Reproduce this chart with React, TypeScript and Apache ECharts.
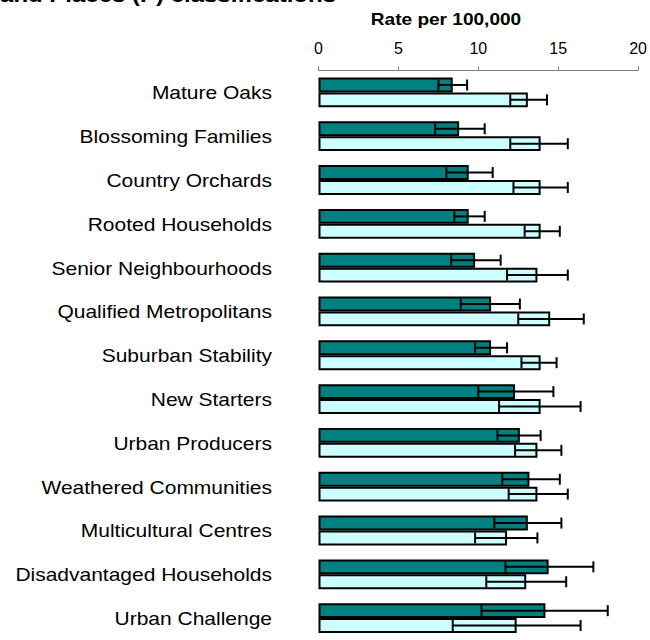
import React, { useEffect, useRef } from "react";
import * as echarts from "echarts";

// Classification groups, top to bottom
const categories = [
  "Mature Oaks",
  "Blossoming Families",
  "Country Orchards",
  "Rooted Households",
  "Senior Neighbourhoods",
  "Qualified Metropolitans",
  "Suburban Stability",
  "New Starters",
  "Urban Producers",
  "Weathered Communities",
  "Multicultural Centres",
  "Disadvantaged Households",
  "Urban Challenge",
];

// First (dark teal) measure: rate and confidence interval
const darkRates = [8.4, 8.8, 9.4, 9.4, 9.8, 10.8, 10.8, 12.3, 12.6, 13.2, 13.1, 14.4, 14.2];
const darkLow = [7.5, 7.3, 8.0, 8.5, 8.3, 8.9, 9.8, 10.0, 11.2, 11.5, 11.0, 11.7, 10.2];
const darkHigh = [9.3, 10.4, 10.9, 10.4, 11.4, 12.6, 11.8, 14.7, 13.9, 15.1, 15.2, 17.2, 18.1];

// Second (pale cyan) measure: rate and confidence interval
const lightRates = [13.1, 13.9, 13.9, 13.9, 13.7, 14.5, 13.9, 13.9, 13.7, 13.7, 11.8, 13.0, 12.4];
const lightLow = [12.0, 12.0, 12.2, 12.9, 11.8, 12.5, 12.7, 11.3, 12.3, 11.9, 9.8, 10.5, 8.4];
const lightHigh = [14.3, 15.6, 15.6, 15.1, 15.6, 16.6, 14.9, 16.4, 15.2, 15.6, 13.7, 15.5, 16.4];

// Axis ticks
const xTicks = [0, 5, 10, 15, 20];

const FONT = "'Liberation Sans', Arial, sans-serif";
const CATEGORY_GAP = 0.32;

function errorBars(low: number[], high: number[], side: number) {
  return {
    type: "custom",
    z: 5,
    silent: true,
    encode: { x: [1, 2], y: 0 },
    data: categories.map((_, i) => [i, low[i], high[i]]),
    renderItem: (_params: any, api: any) => {
      const lo = api.coord([api.value(1), api.value(0)]);
      const hi = api.coord([api.value(2), api.value(0)]);
      const band = api.size([0, 1])[1];
      const barW = (band * (1 - CATEGORY_GAP)) / 2;
      const y = lo[1] + (side * barW) / 2;
      const cap = 5.5;
      const style = { stroke: "#000", lineWidth: 2 };
      return {
        type: "group",
        children: [
          { type: "line", shape: { x1: lo[0], y1: y, x2: hi[0], y2: y }, style },
          { type: "line", shape: { x1: lo[0], y1: y - cap, x2: lo[0], y2: y + cap }, style },
          { type: "line", shape: { x1: hi[0], y1: y - cap, x2: hi[0], y2: y + cap }, style },
        ],
      };
    },
  };
}

export default function App() {
  const ref = useRef<HTMLDivElement>(null);

  useEffect(() => {
    if (!ref.current) return;
    const chart = echarts.init(ref.current, null, { renderer: "svg" });

    chart.setOption({
      animation: false,
      backgroundColor: "#fff",
      grid: { left: 318.5, top: 70.5, width: 322, height: 574.6 },
      xAxis: {
        type: "value",
        position: "top",
        min: xTicks[0],
        max: xTicks[xTicks.length - 1],
        interval: 5,
        axisLine: { show: true, lineStyle: { color: "#808080", width: 1 } },
        axisTick: { show: true, length: 4, lineStyle: { color: "#808080" } },
        splitLine: { show: false },
        axisLabel: { fontFamily: FONT, fontSize: 16, color: "#000", margin: 14 },
      },
      yAxis: {
        type: "category",
        inverse: true,
        data: categories,
        axisLine: { show: false },
        axisTick: { show: false },
        axisLabel: { show: false },
      },
      series: [
        {
          name: "Rate A",
          type: "bar",
          data: darkRates,
          barGap: "0%",
          barCategoryGap: CATEGORY_GAP * 100 + "%",
          itemStyle: { color: "#008080", borderColor: "#000", borderWidth: 2 },
        },
        {
          name: "Rate B",
          type: "bar",
          data: lightRates,
          barGap: "0%",
          barCategoryGap: CATEGORY_GAP * 100 + "%",
          itemStyle: { color: "#CCFFFF", borderColor: "#000", borderWidth: 2 },
        },
        errorBars(darkLow, darkHigh, -1),
        errorBars(lightLow, lightHigh, 1),
      ],
    });

    // Category labels placed at each band centre, slightly widened
    const labels = categories.map((c) => {
      const py = chart.convertToPixel({ yAxisIndex: 0 }, c) as number;
      return {
        type: "text",
        x: 272,
        y: py + 1,
        scaleX: 1.2,
        silent: true,
        style: {
          text: c,
          align: "right",
          verticalAlign: "middle",
          fontFamily: FONT,
          fontSize: 17.5,
          fill: "#000",
        },
      };
    });

    chart.setOption({
      graphic: [
        {
          type: "text",
          x: 336,
          y: -5,
          scaleX: 1.2,
          silent: true,
          style: {
            text: "and Places (P) classifications",
            align: "right",
            verticalAlign: "middle",
            fontFamily: FONT,
            fontWeight: "bold",
            fontSize: 20,
            fill: "#000",
          },
        },
        {
          type: "text",
          x: 446,
          y: 19,
          scaleX: 1.17,
          silent: true,
          style: {
            text: "Rate per 100,000",
            align: "center",
            verticalAlign: "middle",
            fontFamily: FONT,
            fontWeight: "bold",
            fontSize: 16.3,
            fill: "#000",
          },
        },
        ...labels,
      ],
    });

    return () => chart.dispose();
  }, []);

  return (
    <div
      ref={ref}
      style={{ position: "absolute", left: 0, top: 0, width: 650, height: 640 }}
    />
  );
}
